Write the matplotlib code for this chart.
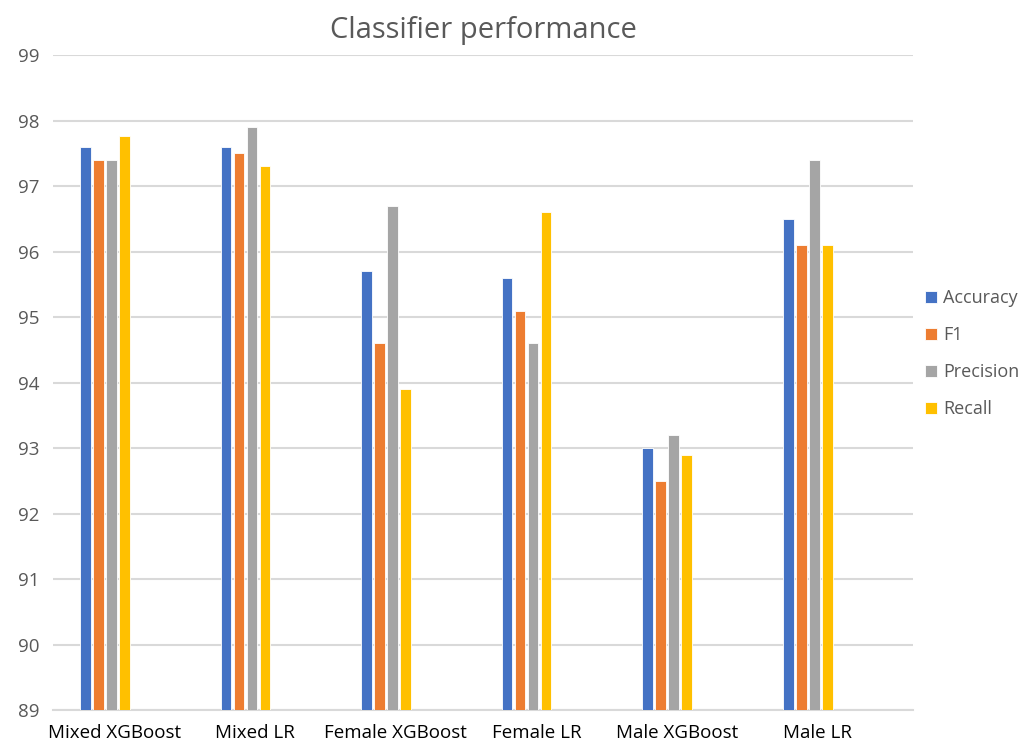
import matplotlib
matplotlib.use("Agg")
import matplotlib.pyplot as plt
import numpy as np

categories = ["Mixed XGBoost", "Mixed LR", "Female XGBoost", "Female LR", "Male XGBoost", "Male LR"]
accuracy = [97.6, 97.6, 95.7, 95.6, 93.0, 96.5]
f1 = [97.4, 97.5, 94.6, 95.1, 92.5, 96.1]
precision = [97.4, 97.9, 96.7, 94.6, 93.2, 97.4]
recall = [97.77, 97.3, 93.9, 96.6, 92.9, 96.1]
series_names = ["Accuracy", "F1", "Precision", "Recall"]
colors = ["#4472C4", "#ED7D31", "#A5A5A5", "#FFC000"]

plt.rcParams['font.family'] = ['Open Sans', 'DejaVu Sans']

fig = plt.figure(figsize=(10.35, 7.4), dpi=100)
ax = fig.add_axes([0.0512, 0.0405, 0.831, 0.885])

x = np.arange(len(categories))
pitch = 0.0925
width = 0.076
for i, (name, vals, c) in enumerate(zip(series_names, [accuracy, f1, precision, recall], colors)):
    ax.bar(x + (i - 1.5) * pitch, [v - 89 for v in vals], width=width, bottom=89,
           color=c, edgecolor="white", linewidth=0.6, label=name, zorder=3)

ax.set_ylim(89, 99)
ax.set_xlim(-0.37, 5.75)
ax.set_yticks(range(89, 100))
ax.set_xticks(x + 0.07)
ax.set_xticklabels(categories)
ax.yaxis.grid(True, color="#D9D9D9", linewidth=1.5, zorder=0)
ax.set_axisbelow(True)
for s in ["top", "right", "left"]:
    ax.spines[s].set_visible(False)
ax.spines["bottom"].set_color("#D9D9D9")
ax.spines["bottom"].set_linewidth(1.5)
ax.tick_params(axis="both", length=0, labelsize=13.5, colors="#595959")
ax.tick_params(axis="x", colors="black", pad=10)
ax.tick_params(axis="y", pad=10)

ax.set_title("Classifier performance", fontsize=21, color="#595959", pad=12)

leg = fig.legend(loc="center left", bbox_to_anchor=(0.878, 0.522), frameon=False,
                 fontsize=13, handlelength=0.65, handleheight=0.65, handletextpad=0.35,
                 labelspacing=1.05)
for t in leg.get_texts():
    t.set_color("#595959")

fig.savefig("out.png", dpi=100)
